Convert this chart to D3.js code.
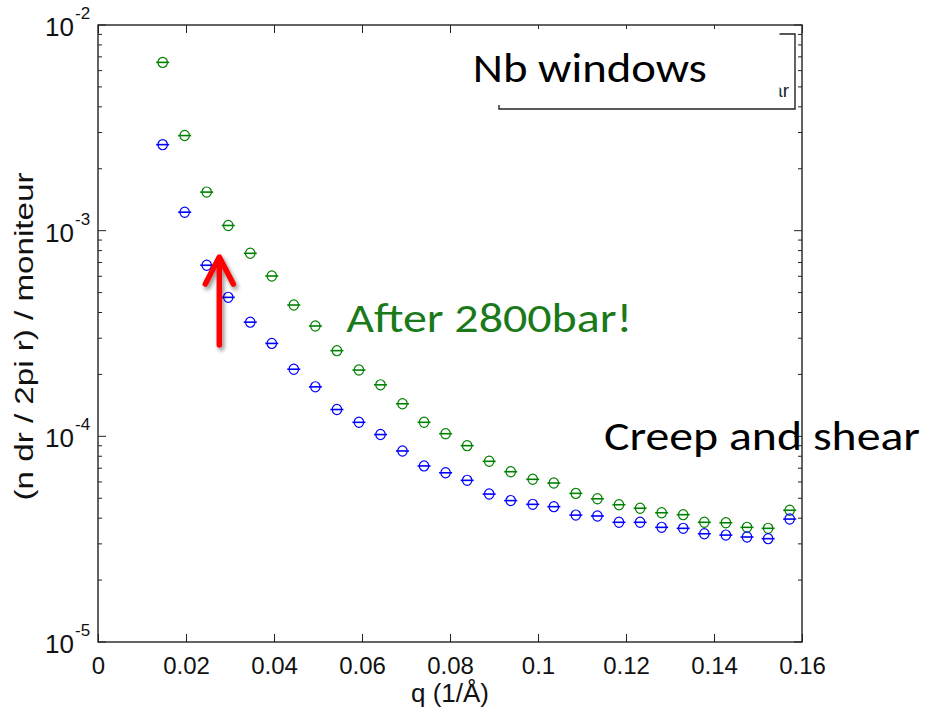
<!DOCTYPE html>
<html>
<head>
<meta charset="utf-8">
<script src="https://cdn.jsdelivr.net/npm/d3@7"></script>
<style>
  body { margin: 0; background: #fff; }
  svg { display: block; }
  .axis text, .label { font-family: "Liberation Sans", Arial, sans-serif; fill: #111; }
  .note { font-family: Carlito, "Open Sans", "Noto Sans", sans-serif; }
</style>
</head>
<body>
<div id="chart-area"></div>
<script>
// q values (1/Å) shared by both runs
const qValues = [0.0147, 0.0197, 0.0247, 0.0296, 0.0346, 0.0395, 0.0445, 0.0494, 0.0543, 0.0593,
  0.0642, 0.0692, 0.0741, 0.0790, 0.0839, 0.0889, 0.0938, 0.0988, 0.1036, 0.1086,
  0.1135, 0.1184, 0.1232, 0.1281, 0.1330, 0.1378, 0.1427, 0.1475, 0.1523, 0.1572]

// before (blue) and after 2800 bar (green)
const blueValues = [2.62e-3, 1.23e-3, 6.79e-4, 4.74e-4, 3.59e-4, 2.83e-4, 2.12e-4, 1.74e-4, 1.35e-4, 1.17e-4,
  1.02e-4, 8.49e-5, 7.18e-5, 6.65e-5, 6.11e-5, 5.24e-5, 4.87e-5, 4.67e-5, 4.55e-5, 4.14e-5,
  4.10e-5, 3.82e-5, 3.82e-5, 3.61e-5, 3.57e-5, 3.36e-5, 3.31e-5, 3.24e-5, 3.18e-5, 3.96e-5]
const greenValues = [6.58e-3, 2.90e-3, 1.54e-3, 1.06e-3, 7.76e-4, 6.02e-4, 4.35e-4, 3.44e-4, 2.61e-4, 2.10e-4,
  1.78e-4, 1.44e-4, 1.17e-4, 1.03e-4, 9.01e-5, 7.56e-5, 6.73e-5, 6.18e-5, 5.93e-5, 5.28e-5,
  4.97e-5, 4.65e-5, 4.47e-5, 4.25e-5, 4.16e-5, 3.82e-5, 3.80e-5, 3.61e-5, 3.57e-5, 4.37e-5]

const xTicks = [0, 0.02, 0.04, 0.06, 0.08, 0.1, 0.12, 0.14, 0.16]
const yDecades = [1e-5, 1e-4, 1e-3, 1e-2]
const yExponents = ["-5", "-4", "-3", "-2"]

const MARGIN = { LEFT: 98, RIGHT: 124, TOP: 25, BOTTOM: 73 }
const WIDTH = 926 - MARGIN.LEFT - MARGIN.RIGHT
const HEIGHT = 715 - MARGIN.TOP - MARGIN.BOTTOM

const svg = d3.select("#chart-area").append("svg")
  .attr("width", 926)
  .attr("height", 715)

svg.append("rect").attr("width", 926).attr("height", 715).attr("fill", "#fff")

const defs = svg.append("defs")
const shadow = defs.append("filter").attr("id", "shadow")
  .attr("x", "-50%").attr("y", "-20%").attr("width", "200%").attr("height", "150%")
shadow.append("feGaussianBlur").attr("in", "SourceAlpha").attr("stdDeviation", 2)
shadow.append("feOffset").attr("dx", 2).attr("dy", 3).attr("result", "off")
shadow.append("feComponentTransfer").append("feFuncA").attr("type", "linear").attr("slope", 0.45)
const merge = shadow.append("feMerge")
merge.append("feMergeNode")
merge.append("feMergeNode").attr("in", "SourceGraphic")

const g = svg.append("g")
  .attr("transform", `translate(${MARGIN.LEFT}, ${MARGIN.TOP})`)

const x = d3.scaleLinear().domain([0, 0.16]).range([0, WIDTH])
const y = d3.scaleLog().domain([1e-5, 1e-2]).range([HEIGHT, 0])

// bottom axis with labels, ticks pointing inward
const xAxisCall = d3.axisBottom(x)
  .tickValues(xTicks)
  .tickSizeInner(-8)
  .tickSizeOuter(0)
  .tickPadding(15)
  .tickFormat(d => String(d))
const xAxisGroup = g.append("g")
  .attr("class", "x axis")
  .attr("transform", `translate(0, ${HEIGHT})`)
  .call(xAxisCall)
xAxisGroup.selectAll("text").attr("font-size", "24px")

// top mirror ticks
g.append("g")
  .attr("class", "x axis")
  .call(d3.axisTop(x).tickValues(xTicks).tickSizeInner(-8).tickSizeOuter(0).tickFormat(""))

// y ticks: minor everywhere, longer at decades
const yTicks = y.ticks()
const isDecade = d => yDecades.some(v => Math.abs(v - d) / v < 1e-6)
;[0, WIDTH].forEach(side => {
  g.append("g").selectAll("line")
    .data(yTicks)
    .enter().append("line")
    .attr("x1", side)
    .attr("x2", d => side + (side === 0 ? 1 : -1) * (isDecade(d) ? 8 : 4))
    .attr("y1", d => y(d))
    .attr("y2", d => y(d))
    .attr("stroke", "#222")
    .attr("stroke-width", 1)
})

g.selectAll(".axis .domain").remove()
g.selectAll(".axis line").attr("stroke", "#222")

// y tick labels as 10 with superscript
const yLabels = g.append("g").attr("class", "axis")
yLabels.selectAll(".base")
  .data(yDecades)
  .enter().append("text")
  .attr("x", -24)
  .attr("y", d => y(d) + 11)
  .attr("text-anchor", "end")
  .attr("font-size", "26px")
  .text("10")
yLabels.selectAll(".exp")
  .data(yDecades)
  .enter().append("text")
  .attr("x", -23)
  .attr("y", (d, i) => y(d) - 6)
  .attr("font-size", "17px")
  .text((d, i) => yExponents[i])

// box
g.append("rect")
  .attr("width", WIDTH)
  .attr("height", HEIGHT)
  .attr("fill", "none")
  .attr("stroke", "#222")
  .attr("stroke-width", 1.4)

// axis labels
g.append("text")
  .attr("class", "label")
  .attr("x", WIDTH / 2)
  .attr("y", HEIGHT + 60)
  .attr("font-size", "26px")
  .attr("text-anchor", "middle")
  .text("q (1/Å)")

g.append("text")
  .attr("class", "label")
  .attr("x", -(HEIGHT / 2) - 3)
  .attr("y", -65)
  .attr("font-size", "26px")
  .attr("text-anchor", "middle")
  .attr("textLength", 328)
  .attr("lengthAdjust", "spacingAndGlyphs")
  .attr("transform", "rotate(-90)")
  .text("(n dr / 2pi r) / moniteur")

// markers: open circle with flat error-bar caps
function drawSeries(values, color) {
  const pts = g.append("g").selectAll("g")
    .data(values.map((v, i) => ({ q: qValues[i], v })))
    .enter().append("g")
    .attr("transform", d => `translate(${x(d.q)}, ${y(d.v)})`)
  pts.append("ellipse")
    .attr("rx", 4.7)
    .attr("ry", 5.1)
    .attr("fill", "none")
    .attr("stroke", color)
    .attr("stroke-width", 1.2)
  pts.append("line")
    .attr("x1", -6.5).attr("x2", 6.5)
    .attr("stroke", color)
    .attr("stroke-width", 1.6)
}
drawSeries(greenValues, "#008000")
drawSeries(blueValues, "#0000ff")

// legend remnant partly covered by the "Nb windows" box
svg.append("text")
  .attr("x", 789)
  .attr("y", 97)
  .attr("text-anchor", "end")
  .attr("font-family", "Liberation Sans, Arial, sans-serif")
  .attr("font-size", "19px")
  .attr("fill", "#222")
  .text("ar")
svg.append("path")
  .attr("d", "M779,34 H795 V109 H499 V104")
  .attr("fill", "none")
  .attr("stroke", "#222")
  .attr("stroke-width", 1.4)
svg.append("rect")
  .attr("x", 466).attr("y", 29)
  .attr("width", 313.5).attr("height", 76)
  .attr("fill", "#fff")

// annotations, drawn above the cover box
const notes = svg.append("g")
  .attr("transform", `translate(${MARGIN.LEFT}, ${MARGIN.TOP})`)

notes.append("text")
  .attr("class", "note")
  .attr("x", x(0.0852))
  .attr("y", y(5.28e-3))
  .attr("font-size", "41px")
  .attr("textLength", 234)
  .attr("lengthAdjust", "spacingAndGlyphs")
  .attr("fill", "#000")
  .text("Nb windows")

notes.append("text")
  .attr("class", "note")
  .attr("x", x(0.0564))
  .attr("y", y(3.22e-4))
  .attr("font-size", "41px")
  .attr("textLength", 286)
  .attr("lengthAdjust", "spacingAndGlyphs")
  .attr("fill", "#1a7a1a")
  .text("After 2800bar!")

notes.append("text")
  .attr("class", "note")
  .attr("x", x(0.115))
  .attr("y", y(8.6e-5))
  .attr("font-size", "41px")
  .attr("textLength", 316)
  .attr("lengthAdjust", "spacingAndGlyphs")
  .attr("fill", "#000")
  .text("Creep and shear")

// red arrow
const ax = x(0.02757)
const tipY = y(7.61e-4)
const baseY = y(2.78e-4)
const arrow = notes.append("g").attr("filter", "url(#shadow)")
arrow.append("line")
  .attr("x1", ax).attr("x2", ax)
  .attr("y1", baseY).attr("y2", tipY + 3)
  .attr("stroke", "#ff0000")
  .attr("stroke-width", 5.5)
  .attr("stroke-linecap", "round")
arrow.append("path")
  .attr("d", `M${ax - 14},${tipY + 29} L${ax},${tipY + 2} L${ax + 14},${tipY + 29}`)
  .attr("fill", "none")
  .attr("stroke", "#ff0000")
  .attr("stroke-width", 5.5)
  .attr("stroke-linecap", "round")
  .attr("stroke-linejoin", "round")
</script>
</body>
</html>
